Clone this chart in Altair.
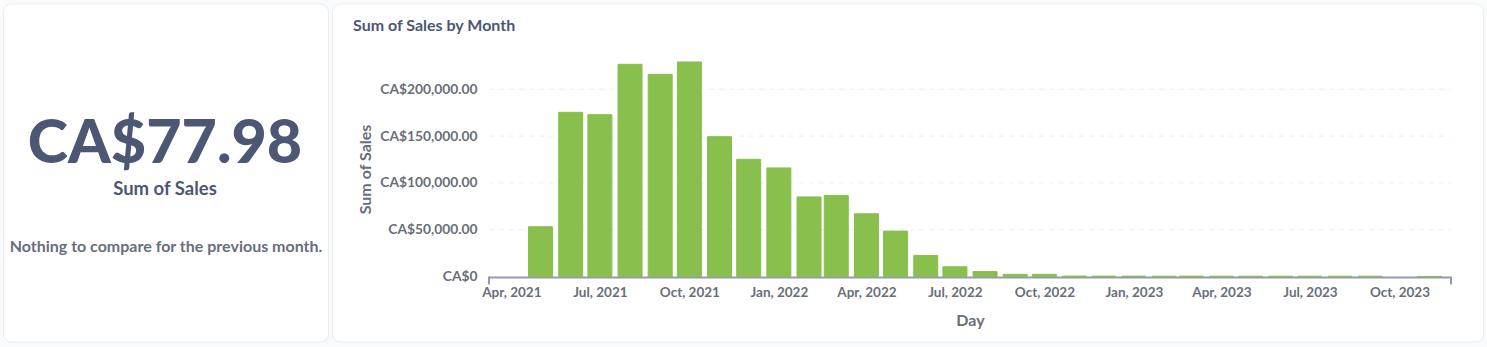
import altair as alt
import pandas as pd

# ---- data ----
months = [
    "2021-05-01", "2021-06-01", "2021-07-01", "2021-08-01", "2021-09-01", "2021-10-01",
    "2021-11-01", "2021-12-01", "2022-01-01", "2022-02-01", "2022-03-01", "2022-04-01",
    "2022-05-01", "2022-06-01", "2022-07-01", "2022-08-01", "2022-09-01", "2022-10-01",
    "2022-11-01", "2022-12-01", "2023-01-01", "2023-02-01", "2023-03-01", "2023-04-01",
    "2023-05-01", "2023-06-01", "2023-07-01", "2023-08-01", "2023-09-01", "2023-11-01",
]
sales = [
    53200, 175400, 172900, 226700, 216000, 229200,
    149400, 125200, 116000, 85000, 86600, 67000,
    48500, 22500, 10400, 5300, 2300, 2300,
    500, 400, 400, 300, 400, 300,
    300, 300, 300, 300, 300, 77.98,
]
y_ticks = [0, 50000, 100000, 150000, 200000]
grid_ticks = [50000, 100000, 150000, 200000]
x_label_dates = [(2021, 4), (2021, 7), (2021, 10), (2022, 1), (2022, 4), (2022, 7),
                 (2022, 10), (2023, 1), (2023, 4), (2023, 7), (2023, 10)]
x_domain = [(2021, 3, 9), (2023, 11, 23)]
x_domain_str = ["2021-03-09", "2023-11-23"]
y_max = 229700

big_value = "CA$77.98"
big_label = "Sum of Sales"
compare_text = "Nothing to compare for the previous month."
chart_title = "Sum of Sales by Month"

W, H = 962, 215
DARK = "#4C5773"
MED = "#696E7B"
GREEN = "#88BF4D"
AXIS = "#949AAB"

df = pd.DataFrame({"month": months, "sales": sales})
one = pd.DataFrame({"k": [0]})

x_scale = alt.Scale(type="utc", padding=0,
                    domain=[alt.DateTime(year=y, month=m, date=d, utc=True) for y, m, d in x_domain])
y_scale = alt.Scale(domain=[0, y_max], nice=False)

x_axis = alt.Axis(
    values=[alt.DateTime(year=y, month=m, date=1, utc=True) for y, m in x_label_dates],
    labelExpr="utcFormat(datum.value, '%b, %Y')", title="Day",
    labelFont="Lato", labelFontWeight="bold", labelFontSize=13.5, labelColor=MED,
    labelPadding=9, ticks=False, domain=False, grid=False, zindex=1,
    titleFont="Lato", titleFontWeight="bold", titleFontSize=16, titleColor=MED,
    titlePadding=13, labelOverlap=False,
)
y_axis = alt.Axis(
    values=y_ticks, title="Sum of Sales",
    labelExpr="datum.value == 0 ? 'CA$0' : 'CA$' + format(datum.value, ',.2f')",
    labelFont="Lato", labelFontWeight="bold", labelFontSize=13.8, labelColor=MED,
    labelPadding=12, ticks=False, domain=False, grid=False, zindex=1,
    titleFont="Lato", titleFontWeight="bold", titleFontSize=16, titleColor=MED,
    titlePadding=6,
)


def card(x0, x1):
    return alt.Chart(one).mark_rect(fill="white", stroke="#E9ECF0", strokeWidth=1, cornerRadius=8).encode(
        x=alt.value(x0), x2=alt.value(x1), y=alt.value(-57.5), y2=alt.value(280.5)
    )


cards = card(-485.5, -160.5) + card(-156.5, 994.5)

grid = alt.Chart(pd.DataFrame({"sales": grid_ticks})).mark_rule(
    color="#ECEEF1", strokeWidth=1, strokeDash=[5, 5]
).encode(
    y=alt.Y("sales:Q", scale=y_scale, axis=y_axis),
    x=alt.value(0), x2=alt.value(W),
)

dom_df = pd.DataFrame({"month": [x_domain_str[0]], "end": [x_domain_str[1]]})
domain_line = alt.Chart(dom_df).mark_rule(color=AXIS, strokeWidth=2).encode(
    x=alt.X("month:T", scale=x_scale, axis=x_axis), x2="end:T", y=alt.value(216)
)
end_ticks = alt.Chart(pd.DataFrame({"month": x_domain_str})).mark_rule(color=AXIS, strokeWidth=2).encode(
    x=alt.X("month:T", scale=x_scale, axis=x_axis), y=alt.value(215), y2=alt.value(223)
)

bars = alt.Chart(df).mark_bar(size=24, color=GREEN, stroke=GREEN, strokeWidth=1).encode(
    x=alt.X("month:T", scale=x_scale, axis=x_axis),
    y=alt.Y("sales:Q", scale=y_scale, axis=y_axis),
)


def txt(text, x, y, size, color, weight="bold", align="center"):
    return alt.Chart(one).mark_text(
        text=text, font="Lato", fontSize=size, fontWeight=weight, color=color,
        align=align, baseline="alphabetic",
    ).encode(x=alt.value(x), y=alt.value(y))


texts = (
    txt(big_value, -324, 101.5, 61, DARK, weight=900)
    + txt(big_label, -324, 133.5, 18.5, DARK)
    + txt(compare_text, -323, 190.5, 16, MED)
    + txt(chart_title, -136, -31, 16, DARK, align="left")
)

chart = alt.layer(cards, grid, domain_line, end_ticks, bars, texts).properties(
    width=W, height=H,
    autosize=alt.AutoSizeParams(type="none"),
    padding={"left": 489, "top": 61.5, "right": 36, "bottom": 70.5},
    background="#F9FAFB",
).configure_view(stroke=None)

chart.save("out.html", embed_options={"renderer": "svg", "actions": False})
